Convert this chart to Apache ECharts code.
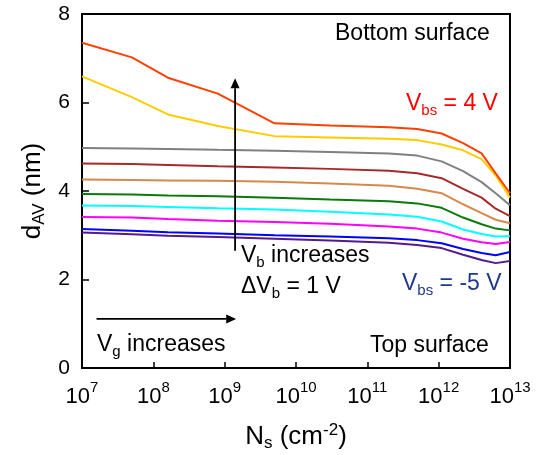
<!DOCTYPE html>
<html>
<head>
<meta charset="utf-8">
<script src="https://cdn.jsdelivr.net/npm/echarts@6/dist/echarts.min.js"></script>
<style>
html,body{margin:0;padding:0;background:#fff;}
#c{width:538px;height:455px;}
</style>
</head>
<body>
<div id="c"></div>
<script>
// Surface carrier density N_s (cm^-2), shared sample points
const nsValues = [1e7, 5e7, 1.6e8, 8e8, 5e9, 3e10, 2e11, 5e11, 1.1e12, 2.2e12, 4e12, 6.3e12, 1e13];
// d_AV (nm) for each back-bias V_bs
const vbsLabels = ['Vbs = 4 V','Vbs = 3 V','Vbs = 2 V','Vbs = 1 V','Vbs = 0 V','Vbs = -1 V','Vbs = -2 V','Vbs = -3 V','Vbs = -4 V','Vbs = -5 V'];
const dVbs4  = [7.35, 7.02, 6.56, 6.20, 5.53, 5.48, 5.44, 5.40, 5.30, 5.08, 4.85, 4.40, 3.95];
const dVbs3  = [6.59, 6.12, 5.73, 5.47, 5.24, 5.21, 5.18, 5.15, 5.05, 4.92, 4.72, 4.35, 3.85];
const dVbs2  = [4.97, 4.96, 4.95, 4.93, 4.91, 4.88, 4.85, 4.80, 4.67, 4.45, 4.20, 3.95, 3.68];
const dVbs1  = [4.62, 4.61, 4.59, 4.56, 4.53, 4.50, 4.46, 4.40, 4.29, 4.05, 3.85, 3.60, 3.43];
const dVbs0  = [4.26, 4.25, 4.24, 4.23, 4.21, 4.17, 4.12, 4.05, 3.95, 3.70, 3.50, 3.35, 3.27];
const dVbsM1 = [3.93, 3.92, 3.90, 3.88, 3.85, 3.81, 3.77, 3.72, 3.62, 3.40, 3.25, 3.15, 3.11];
const dVbsM2 = [3.67, 3.66, 3.64, 3.61, 3.58, 3.53, 3.47, 3.42, 3.31, 3.13, 3.03, 2.97, 2.98];
const dVbsM3 = [3.41, 3.40, 3.37, 3.33, 3.30, 3.26, 3.20, 3.15, 3.06, 2.92, 2.84, 2.80, 2.85];
const dVbsM4 = [3.14, 3.10, 3.07, 3.04, 3.00, 2.97, 2.93, 2.89, 2.82, 2.69, 2.60, 2.55, 2.62];
const dVbsM5 = [3.06, 3.02, 2.99, 2.96, 2.92, 2.88, 2.83, 2.78, 2.71, 2.56, 2.44, 2.37, 2.42];
const allSeries = [dVbs4, dVbs3, dVbs2, dVbs1, dVbs0, dVbsM1, dVbsM2, dVbsM3, dVbsM4, dVbsM5];
const colors = ['#FF4000','#FFCC00','#808080','#A52A2A','#D58A4C','#0A7A0A','#00FFFF','#FF00FF','#0000FF','#551A8B'];
// axis ticks
const yTicks = [0, 2, 4, 6, 8];
const xExponents = [7, 8, 9, 10, 11, 12, 13];

const FONT = '"Liberation Sans", Arial, sans-serif';
const chart = echarts.init(document.getElementById('c'), null, {renderer: 'canvas'});

const series = allSeries.map((vals, i) => ({
  name: vbsLabels[i],
  type: 'line',
  data: nsValues.map((x, j) => [x, vals[j]]),
  symbol: 'none',
  lineStyle: {color: colors[i], width: 2},
  itemStyle: {color: colors[i]},
  z: 20 - i,
  animation: false
}));

// rich styles for axis names (ECharts text style: color)
const richTitle = {
  a: {fontSize: 26, fontFamily: FONT, color: '#000', lineHeight: 30, verticalAlign: 'middle'},
  sub: {fontSize: 17, fontFamily: FONT, color: '#000', lineHeight: 30, verticalAlign: 'bottom'},
  sup: {fontSize: 17, fontFamily: FONT, color: '#000', lineHeight: 30, verticalAlign: 'top'}
};
// rich styles for graphic texts (zrender style: fill)
function richG(col) {
  return {
    a: {fontSize: 23, fontFamily: FONT, fill: col, lineHeight: 30, verticalAlign: 'middle'},
    sub: {fontSize: 15, fontFamily: FONT, fill: col, lineHeight: 30, verticalAlign: 'bottom'}
  };
}

chart.setOption({
  animation: false,
  backgroundColor: '#fff',
  grid: {left: 82, right: 28, top: 14, bottom: 87, containLabel: false, outerBoundsMode: 'none',
         show: true, borderColor: '#000', borderWidth: 2, backgroundColor: 'transparent'},
  xAxis: {
    type: 'log', logBase: 10, min: 1e7, max: 1e13,
    axisLine: {show: true, lineStyle: {color: '#000', width: 2}},
    axisTick: {show: true, inside: true, length: 6, lineStyle: {color: '#000', width: 1.5}},
    splitLine: {show: false},
    axisLabel: {
      margin: 12,
      formatter: function (v) {
        const n = Math.round(Math.log10(v));
        return xExponents.indexOf(n) >= 0 ? '{b|10}{s|' + n + '}' : '';
      },
      rich: {
        b: {fontSize: 22, fontFamily: FONT, color: '#000', lineHeight: 28, verticalAlign: 'bottom'},
        s: {fontSize: 15, fontFamily: FONT, color: '#000', lineHeight: 28, verticalAlign: 'top'}
      }
    },
    name: '{a|N}{sub|s}{a| (cm}{sup|-2}{a|)}',
    nameLocation: 'middle',
    nameGap: 54,
    nameTextStyle: {rich: richTitle}
  },
  yAxis: {
    type: 'value', min: 0, max: 8, interval: 2,
    axisLine: {show: true, lineStyle: {color: '#000', width: 2}},
    axisTick: {show: true, inside: true, length: 7, lineStyle: {color: '#000', width: 1.5}},
    splitLine: {show: false},
    axisLabel: {
      margin: 12, fontSize: 21, fontFamily: FONT, color: '#000',
      formatter: function (v) { return yTicks.indexOf(v) >= 0 ? String(v) : ''; }
    },
    name: '{a|d}{sub|AV}{a| (nm)}',
    nameLocation: 'middle',
    nameGap: 33,
    nameRotate: 90,
    nameTextStyle: {rich: richTitle}
  },
  series: series
});

// Annotations (arrows anchored to data coordinates)
function px(x, y) { return chart.convertToPixel({gridIndex: 0}, [x, y]); }
const vA0 = px(1.4e9, 2.65), vA1 = px(1.4e9, 6.55);
const hA0 = px(1.6e7, 1.11), hA1 = px(1.45e9, 1.11);

function arrow(p0, p1) {
  const dx = p1[0] - p0[0], dy = p1[1] - p0[1];
  const L = Math.sqrt(dx*dx + dy*dy), ux = dx / L, uy = dy / L;
  const hl = 10, hw = 4.5;
  const bx = p1[0] - ux*hl, by = p1[1] - uy*hl;
  return [
    {type: 'line', shape: {x1: p0[0], y1: p0[1], x2: bx, y2: by}, style: {stroke: '#000', lineWidth: 1.8}, z: 100},
    {type: 'polygon', shape: {points: [[p1[0], p1[1]], [bx - uy*hw, by + ux*hw], [bx + uy*hw, by - ux*hw]]}, style: {fill: '#000'}, z: 100}
  ];
}

const plain = {fontFamily: FONT, fontSize: 23, fill: '#000'};
chart.setOption({
  graphic: [].concat(
    arrow(vA0, vA1),
    arrow(hA0, hA1),
    [
      {type: 'text', left: 335, top: 22, style: Object.assign({}, plain, {text: 'Bottom surface'}), z: 100},
      {type: 'text', left: 406, top: 92, style: {text: '{a|V}{sub|bs}{a| = 4 V}', rich: richG('#FF0000')}, z: 100},
      {type: 'text', left: 241, top: 244, style: {text: '{a|V}{sub|b}{a| increases}', rich: richG('#000')}, z: 100},
      {type: 'text', left: 241, top: 275, style: {text: '{a|ΔV}{sub|b}{a| = 1 V}', rich: richG('#000')}, z: 100},
      {type: 'text', left: 402, top: 272, style: {text: '{a|V}{sub|bs}{a| = -5 V}', rich: richG('#1F3A8A')}, z: 100},
      {type: 'text', left: 97, top: 333, style: {text: '{a|V}{sub|g}{a| increases}', rich: richG('#000')}, z: 100},
      {type: 'text', left: 370, top: 334, style: Object.assign({}, plain, {text: 'Top surface'}), z: 100}
    ]
  )
});
</script>
</body>
</html>
